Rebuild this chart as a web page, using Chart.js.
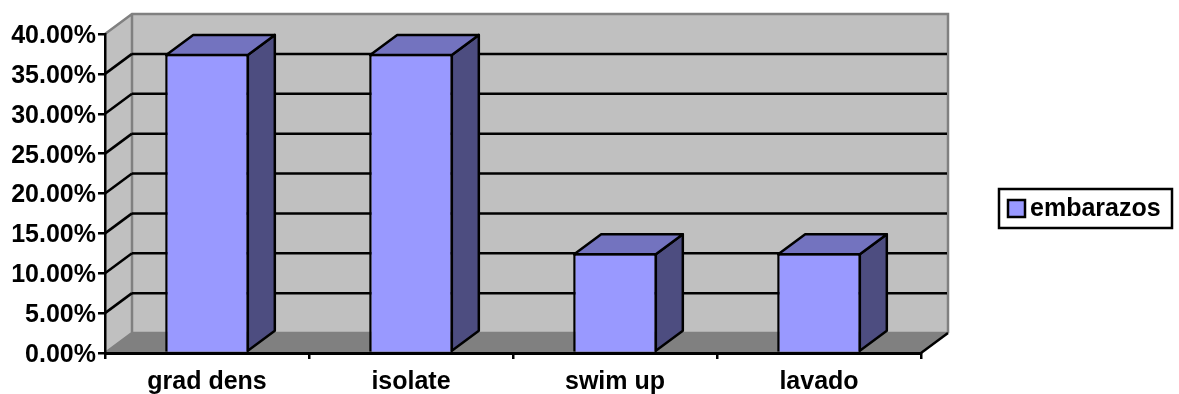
<!DOCTYPE html>
<html>
<head>
<meta charset="utf-8">
<title>embarazos</title>
<script src="https://cdn.jsdelivr.net/npm/chart.js@4/dist/chart.umd.min.js"></script>
<style>
  html, body { margin: 0; padding: 0; background: #fff; }
  canvas { display: block; }
</style>
</head>
<body>
<canvas id="chart" width="1179" height="394"></canvas>
<script>
const categories = ['grad dens', 'isolate', 'swim up', 'lavado'];
const seriesName = 'embarazos';
const seriesValues = [37.5, 37.5, 12.5, 12.5];

const FONT = '"Liberation Sans", Arial, sans-serif';
// offset of the back wall from the front plane
const DEPTH_X = 27;
const DEPTH_Y = 20;

function poly(ctx, pts, fill, stroke, width) {
  ctx.beginPath();
  pts.forEach((p, i) => i ? ctx.lineTo(p[0], p[1]) : ctx.moveTo(p[0], p[1]));
  ctx.closePath();
  if (fill) {
    ctx.fillStyle = fill;
    ctx.fill();
  }
  if (stroke) {
    ctx.strokeStyle = stroke;
    ctx.lineWidth = width;
    ctx.lineJoin = 'round';
    ctx.stroke();
  }
}

function line(ctx, x1, y1, x2, y2, color, width) {
  ctx.beginPath();
  ctx.moveTo(x1, y1);
  ctx.lineTo(x2, y2);
  ctx.strokeStyle = color;
  ctx.lineWidth = width;
  ctx.stroke();
}

// back wall, side wall, floor and the gridlines running over them
const wallsPlugin = {
  id: 'walls',
  beforeDraw(chart) {
    const ctx = chart.ctx;
    const { left, right, top, bottom } = chart.chartArea;
    const y = chart.scales.y;
    ctx.save();
    poly(ctx, [[left + DEPTH_X, top - DEPTH_Y], [right + DEPTH_X, top - DEPTH_Y], [right + DEPTH_X, bottom - DEPTH_Y], [left + DEPTH_X, bottom - DEPTH_Y]], '#c0c0c0');
    poly(ctx, [[left, top], [left + DEPTH_X, top - DEPTH_Y], [left + DEPTH_X, bottom - DEPTH_Y], [left, bottom]], '#c0c0c0');
    poly(ctx, [[left, bottom], [right, bottom], [right + DEPTH_X, bottom - DEPTH_Y], [left + DEPTH_X, bottom - DEPTH_Y]], '#808080');

    // wall outlines
    ctx.beginPath();
    ctx.moveTo(left, top);
    ctx.lineTo(left + DEPTH_X, top - DEPTH_Y);
    ctx.lineTo(right + DEPTH_X, top - DEPTH_Y);
    ctx.lineTo(right + DEPTH_X, bottom - DEPTH_Y);
    ctx.moveTo(left + DEPTH_X, top - DEPTH_Y);
    ctx.lineTo(left + DEPTH_X, bottom - DEPTH_Y);
    ctx.lineTo(right + DEPTH_X, bottom - DEPTH_Y);
    ctx.moveTo(left, bottom);
    ctx.lineTo(left + DEPTH_X, bottom - DEPTH_Y);
    ctx.strokeStyle = '#808080';
    ctx.lineWidth = 2.5;
    ctx.stroke();

    y.ticks.forEach(t => {
      if (t.value === 0 || t.value === y.max) return;
      const py = y.getPixelForValue(t.value);
      line(ctx, left, py, left + DEPTH_X, py - DEPTH_Y, '#000', 2.5);
      line(ctx, left + DEPTH_X, py - DEPTH_Y, right + DEPTH_X - 1, py - DEPTH_Y, '#000', 2.5);
    });

    line(ctx, right, bottom, right + DEPTH_X, bottom - DEPTH_Y, '#000', 2.5);
    ctx.restore();
  },
  // side and top faces of each bar, the front face comes from the dataset
  beforeDatasetsDraw(chart) {
    const ctx = chart.ctx;
    ctx.save();
    chart.getDatasetMeta(0).data.forEach(bar => {
      const half = bar.width / 2;
      const x1 = bar.x - half + 1;
      const x2 = bar.x + half - 1;
      const yTop = bar.y + 1;
      const yBase = bar.base - 1;
      poly(ctx, [[x2, yTop], [x2 + DEPTH_X, yTop - DEPTH_Y], [x2 + DEPTH_X, yBase - DEPTH_Y], [x2, yBase]], '#4d4d80', '#000', 2.5);
      poly(ctx, [[x1, yTop], [x1 + DEPTH_X, yTop - DEPTH_Y], [x2 + DEPTH_X, yTop - DEPTH_Y], [x2, yTop]], '#7373bf', '#000', 2.5);
    });
    ctx.restore();
  },
  // framed legend to the right of the plot
  afterDraw(chart) {
    const ctx = chart.ctx;
    const ds = chart.data.datasets[0];
    ctx.save();
    ctx.fillStyle = '#fff';
    ctx.strokeStyle = '#000';
    ctx.lineWidth = 2.5;
    ctx.fillRect(999, 189, 173, 39);
    ctx.strokeRect(999, 189, 173, 39);
    ctx.fillStyle = ds.backgroundColor;
    ctx.fillRect(1008, 200, 17, 17);
    ctx.strokeRect(1008, 200, 17, 17);
    ctx.fillStyle = '#000';
    ctx.font = 'bold 25px ' + FONT;
    ctx.textBaseline = 'middle';
    ctx.textAlign = 'left';
    ctx.fillText(ds.label, 1030, 209);
    ctx.restore();
  }
};

new Chart(document.getElementById('chart'), {
  type: 'bar',
  data: {
    labels: categories,
    datasets: [{
      label: seriesName,
      data: seriesValues,
      backgroundColor: '#9999ff',
      borderColor: '#000',
      borderWidth: 2.5,
      categoryPercentage: 1,
      barPercentage: 0.41
    }]
  },
  options: {
    responsive: false,
    animation: false,
    layout: { padding: { top: 34, right: 258, left: 0, bottom: 0 } },
    plugins: {
      legend: { display: false },
      tooltip: { enabled: false }
    },
    scales: {
      x: {
        afterFit(scale) { scale.height = 41; },
        grid: { drawOnChartArea: false, color: '#000', lineWidth: 2.5, tickLength: 6 },
        border: { color: '#000', width: 3 },
        ticks: { color: '#000', padding: 8, maxRotation: 0, font: { family: FONT, size: 25, weight: 'bold' } }
      },
      y: {
        min: 0,
        max: 40,
        afterFit(scale) { scale.width = 105; },
        grid: { drawOnChartArea: false, color: '#000', lineWidth: 2.5, tickLength: 7 },
        border: { color: '#000', width: 2.5 },
        ticks: {
          stepSize: 5,
          color: '#000',
          padding: 2,
          labelOffset: 2,
          font: { family: FONT, size: 25, weight: 'bold' },
          callback: v => v.toFixed(2) + '%'
        }
      }
    }
  },
  plugins: [wallsPlugin]
});
</script>
</body>
</html>
